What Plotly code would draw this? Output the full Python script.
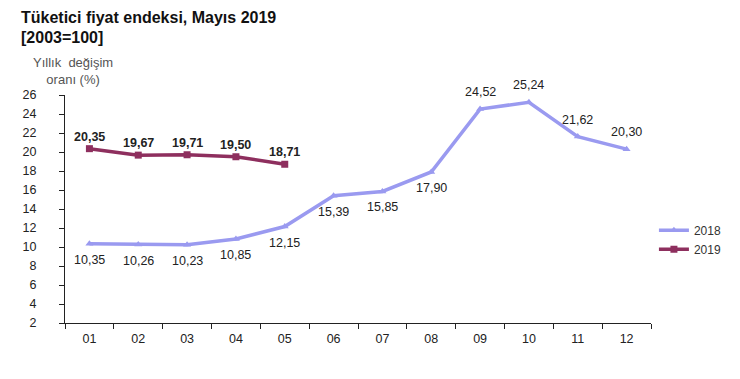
import plotly.graph_objects as go

months = ["01", "02", "03", "04", "05", "06", "07", "08", "09", "10", "11", "12"]
vals_2018 = [10.35, 10.26, 10.23, 10.85, 12.15, 15.39, 15.85, 17.90, 24.52, 25.24, 21.62, 20.30]
vals_2019 = [20.35, 19.67, 19.71, 19.50, 18.71]
labels_2018 = ["10,35", "10,26", "10,23", "10,85", "12,15", "15,39", "15,85", "17,90", "24,52", "25,24", "21,62", "20,30"]
labels_2019 = ["20,35", "19,67", "19,71", "19,50", "18,71"]
pos_2018 = ["below"] * 8 + ["above"] * 4
y_ticks = list(range(2, 27, 2))

C2018 = "#9a9af0"
C2019 = "#8e2f5e"
FONT = "Liberation Sans, Arial, sans-serif"

fig = go.Figure()
fig.add_trace(go.Scatter(
    x=months, y=vals_2018, name="2018", mode="lines+markers",
    line=dict(color=C2018, width=3.5),
    marker=dict(symbol="triangle-up", size=7, color=C2018),
))
fig.add_trace(go.Scatter(
    x=months[:len(vals_2019)], y=vals_2019, name="2019", mode="lines+markers",
    line=dict(color=C2019, width=3.5),
    marker=dict(symbol="square", size=7, color=C2019),
))

# data labels (category index positions)
for i, (v, lab, p) in enumerate(zip(vals_2018, labels_2018, pos_2018)):
    fig.add_annotation(
        x=i, y=v, xref="x", yref="y", text=lab, showarrow=False,
        yshift=(-16 if p == "below" else 17),
        font=dict(family=FONT, size=12.5, color="#222222"),
    )
for i, (v, lab) in enumerate(zip(vals_2019, labels_2019)):
    fig.add_annotation(
        x=i, y=v, xref="x", yref="y", text="<b>" + lab + "</b>", showarrow=False,
        yshift=12,
        font=dict(family=FONT, size=12.5, color="#222222"),
    )

# plot area on screen: x 65..651, y 95..323 (page body has an 8px margin)
def px(xs):
    return (xs - 65) / 586

def py(ys):
    return (323 - ys) / 228

fig.add_annotation(
    xref="paper", yref="paper", x=px(19), y=py(18),
    text="<b>Tüketici fiyat endeksi, Mayıs 2019</b>", showarrow=False,
    xanchor="left", yanchor="middle", font=dict(family=FONT, size=16, color="#111111"),
)
fig.add_annotation(
    xref="paper", yref="paper", x=px(19), y=py(37),
    text="<b>[2003=100]</b>", showarrow=False,
    xanchor="left", yanchor="middle", font=dict(family=FONT, size=16, color="#111111"),
)
fig.add_annotation(
    xref="paper", yref="paper", x=px(73), y=py(71),
    text="Yıllık  değişim<br>oranı (%)", showarrow=False, align="center",
    xanchor="center", yanchor="middle", font=dict(family=FONT, size=13, color="#555555"),
)

fig.update_layout(
    width=732, height=371,
    margin=dict(l=57, r=89, t=87, b=56),
    paper_bgcolor="white", plot_bgcolor="white",
    font=dict(family=FONT, size=12, color="#222222"),
    showlegend=True,
    legend=dict(
        x=1.005, y=0.47, xanchor="left", yanchor="top",
        font=dict(family=FONT, size=12, color="#333333"),
        bgcolor="rgba(0,0,0,0)", tracegroupgap=0,
    ),
    xaxis=dict(
        type="category", showgrid=False, showline=True, linecolor="#222222", linewidth=1,
        ticks="outside", ticklen=5, tickcolor="#222222", tickson="boundaries",
        ticklabelstandoff=4,
        tickfont=dict(family=FONT, size=12.5, color="#222222"),
        range=[-0.5, 11.5], zeroline=False,
    ),
    yaxis=dict(
        range=[2, 26], tickvals=y_ticks, showgrid=False, showline=True,
        linecolor="#222222", linewidth=1, ticks="outside", ticklen=5, tickcolor="#222222",
        ticklabelstandoff=20, zeroline=False,
        tickfont=dict(family=FONT, size=12.5, color="#222222"),
    ),
)

fig.write_html("out.html")
